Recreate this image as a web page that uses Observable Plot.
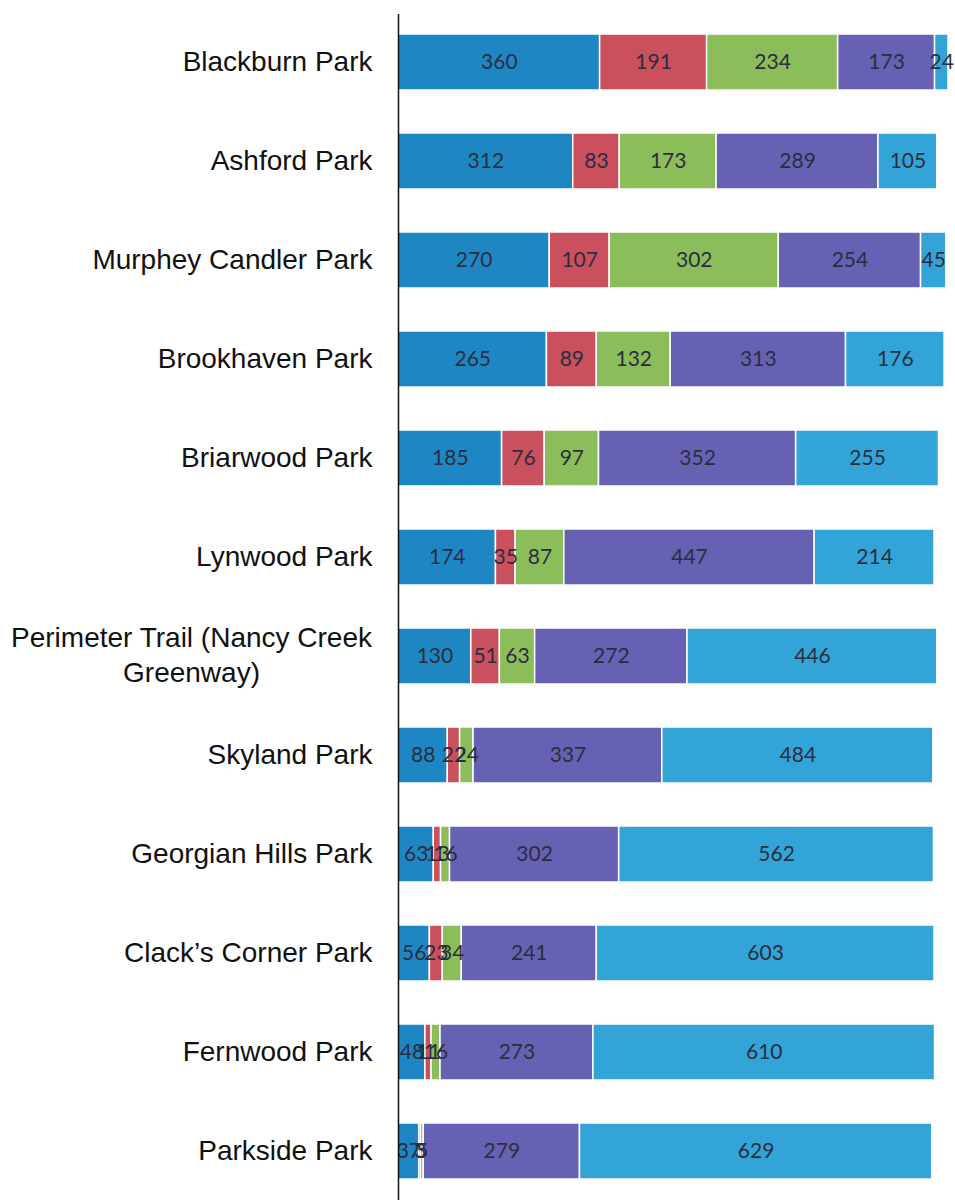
<!DOCTYPE html>
<html><head><meta charset="utf-8">
<script src="https://cdn.jsdelivr.net/npm/d3@7"></script>
<script src="https://cdn.jsdelivr.net/npm/@observablehq/plot@0.6"></script>
<style>body{margin:0;background:#fff}</style>
</head><body><div id="chart"></div>
<script>
const parks = ["Blackburn Park","Ashford Park","Murphey Candler Park","Brookhaven Park","Briarwood Park","Lynwood Park","Perimeter Trail (Nancy Creek Greenway)","Skyland Park","Georgian Hills Park","Clack’s Corner Park","Fernwood Park","Parkside Park"];
const seriesNames = ["Series 1","Series 2","Series 3","Series 4","Series 5"];
const s1 = [360,312,270,265,185,174,130,88,63,56,48,37];
const s2 = [191,83,107,89,76,35,51,22,13,23,11,3];
const s3 = [234,173,302,132,97,87,63,24,16,34,16,5];
const s4 = [173,289,254,313,352,447,272,337,302,241,273,279];
const s5 = [24,105,45,176,255,214,446,484,562,603,610,629];
const colors = ["#1f86c4","#c9505c","#8cbd5b","#6661b3","#33a4d8"];

const seriesValues = [s1,s2,s3,s4,s5];
const data = [];
seriesValues.forEach((vals, i) => vals.forEach((v, j) => data.push({park: parks[j], series: seriesNames[i], value: v})));
const totals = parks.map((p, j) => d3.sum(seriesValues, s => s[j]));
const labelMap = {"Perimeter Trail (Nancy Creek Greenway)": "Perimeter Trail (Nancy Creek\nGreenway)"};

const chart = Plot.plot({
  width: 955, height: 1200,
  marginLeft: 398, marginRight: 7, marginTop: 14, marginBottom: 0,
  x: {axis: null, domain: [0, d3.max(totals)]},
  y: {domain: parks, paddingInner: 0.43, paddingOuter: 0.15, label: null},
  color: {domain: seriesNames, range: colors},
  style: {fontFamily: "'Liberation Sans', Arial, sans-serif", fontSize: "28px", color: "#111"},
  marks: [
    Plot.axisY({tickSize: 0, tickPadding: 26, tickFormat: d => labelMap[d] || d, lineHeight: 1.25, fontSize: 28, fill: "#111", label: null, dy: -3}),
    Plot.barX(data, Plot.stackX({x: "value", y: "park", fill: "series", stroke: "white", strokeWidth: 1.5})),
    Plot.text(data, Plot.stackX({x: "value", y: "park", z: "series", text: d => String(d.value), fill: "#2a2e40", fontSize: 21, fontFamily: "Lato, sans-serif"})),
    Plot.ruleX([0], {stroke: "#111", strokeWidth: 1.5})
  ]
});
document.getElementById("chart").appendChild(chart);

// center multi-line axis labels like the original
chart.querySelectorAll('g[aria-label="y-axis tick label"] text').forEach(t => {
  if (t.querySelectorAll("tspan").length > 1) {
    const w = t.getBBox().width;
    t.setAttribute("text-anchor", "middle");
    const tr = t.getAttribute("transform") || "";
    t.setAttribute("transform", tr + ` translate(${-w / 2},0)`);
  }
});
</script>
</body></html>
